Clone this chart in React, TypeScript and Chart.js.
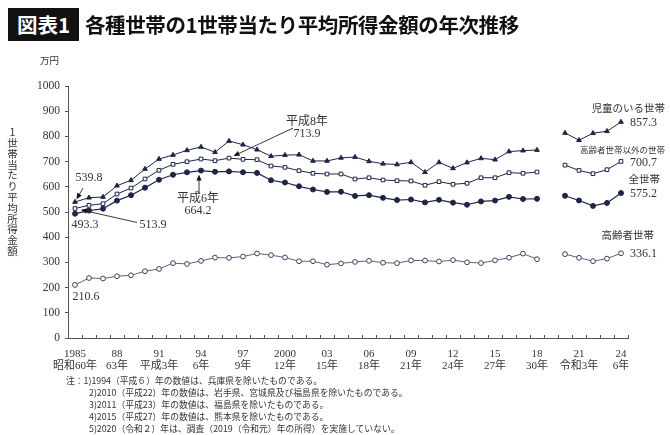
import React, { useEffect, useRef } from "react";
import { Chart, registerables } from "chart.js";

Chart.register(...registerables);

// ---- data ----
const years: number[] = [
  1985, 1986, 1987, 1988, 1989, 1990, 1991, 1992, 1993, 1994,
  1995, 1996, 1997, 1998, 1999, 2000, 2001, 2002, 2003, 2004,
  2005, 2006, 2007, 2008, 2009, 2010, 2011, 2012, 2013, 2014,
  2015, 2016, 2017, 2018, 2019, 2020, 2021, 2022, 2023, 2024,
];

const childHouseholds: (number | null)[] = [
  539.8, 556.7, 559.5, 604.4, 625.8, 670.6, 710.3, 726.2, 744.8, 758.0,
  737.2, 781.6, 767.1, 747.4, 721.4, 725.8, 727.2, 702.7, 702.6, 714.9,
  718.0, 701.2, 691.4, 688.5, 697.3, 658.1, 697.0, 673.2, 696.3, 712.9,
  707.8, 739.8, 743.6, 745.9, null, 813.5, 785.0, 812.6, 820.5, 857.3,
];

const nonElderlyHouseholds: (number | null)[] = [
  513.9, 526.5, 533.0, 571.4, 595.0, 631.0, 665.5, 689.0, 699.6, 710.3,
  703.6, 713.9, 709.0, 707.5, 682.5, 677.4, 664.0, 653.6, 650.8, 650.8,
  631.0, 636.0, 627.0, 624.3, 623.0, 606.0, 620.4, 610.0, 614.0, 636.0,
  636.0, 656.0, 653.6, 658.7, null, 686.0, 665.0, 652.0, 668.0, 700.7,
];

const allHouseholds: (number | null)[] = [
  493.3, 505.6, 513.0, 545.2, 566.7, 596.6, 628.0, 647.8, 657.5, 664.2,
  659.6, 661.2, 657.7, 655.2, 626.0, 616.9, 602.0, 589.3, 579.7, 580.4,
  563.8, 566.8, 556.2, 547.5, 549.6, 538.0, 548.2, 537.2, 528.9, 541.9,
  545.4, 560.2, 551.6, 552.3, null, 564.3, 545.7, 524.2, 536.0, 575.2,
];

const elderlyHouseholds: (number | null)[] = [
  210.6, 238.0, 236.0, 245.0, 249.0, 265.0, 274.0, 297.0, 294.0, 306.0,
  319.0, 318.0, 323.1, 335.5, 328.9, 319.5, 304.6, 304.6, 290.9, 296.1,
  301.9, 306.3, 298.9, 297.0, 307.9, 307.2, 303.6, 309.1, 300.5, 297.3,
  308.1, 318.6, 334.9, 312.6, null, 332.9, 318.3, 304.9, 315.0, 336.1,
];

const labelYears: number[] = [1985, 1988, 1991, 1994, 1997, 2000, 2003, 2006, 2009, 2012, 2015, 2018, 2021, 2024];
const labelTop: string[] = ["1985", "88", "91", "94", "97", "2000", "03", "06", "09", "12", "15", "18", "21", "24"];
const labelEra: string[] = ["昭和60年", "63年", "平成3年", "6年", "9年", "12年", "15年", "18年", "21年", "24年", "27年", "30年", "令和3年", "6年"];

const seriesNames: string[] = ["児童のいる世帯", "高齢者世帯以外の世帯", "全世帯", "高齢者世帯"];

const notes: string[] = [
  "注：1)1994（平成６）年の数値は、兵庫県を除いたものである。",
  "2)2010（平成22）年の数値は、岩手県、宮城県及び福島県を除いたものである。",
  "3)2011（平成23）年の数値は、福島県を除いたものである。",
  "4)2015（平成27）年の数値は、熊本県を除いたものである。",
  "5)2020（令和２）年は、調査（2019（令和元）年の所得）を実施していない。",
];

const NAVY = "#1d2549";
const GREY_LINE = "#4a5070";
const TEXT = "#333333";
const SERIF = "'Liberation Serif', 'Noto Sans CJK JP', serif";
const JP = "'Noto Sans CJK JP', sans-serif";

function fmt(v: number | null): string {
  return v == null ? "" : v.toFixed(1);
}

function arrow(ctx: CanvasRenderingContext2D, x1: number, y1: number, x2: number, y2: number) {
  const ang = Math.atan2(y2 - y1, x2 - x1);
  const len = 6;
  const hw = 2.6;
  ctx.save();
  ctx.strokeStyle = "#222";
  ctx.fillStyle = "#111";
  ctx.lineWidth = 0.9;
  ctx.beginPath();
  ctx.moveTo(x1, y1);
  ctx.lineTo(x2 - Math.cos(ang) * len * 0.8, y2 - Math.sin(ang) * len * 0.8);
  ctx.stroke();
  ctx.beginPath();
  ctx.moveTo(x2, y2);
  ctx.lineTo(x2 - Math.cos(ang) * len - Math.sin(ang) * hw, y2 - Math.sin(ang) * len + Math.cos(ang) * hw);
  ctx.lineTo(x2 - Math.cos(ang) * len + Math.sin(ang) * hw, y2 - Math.sin(ang) * len - Math.cos(ang) * hw);
  ctx.closePath();
  ctx.fill();
  ctx.restore();
}

function tipToward(px: number, py: number, fx: number, fy: number, gap: number): [number, number] {
  const dx = fx - px, dy = fy - py;
  const d = Math.hypot(dx, dy) || 1;
  return [px + (dx / d) * gap, py + (dy / d) * gap];
}

const annotationPlugin = {
  id: "annotations",
  afterDraw(chart: any) {
    const ctx: CanvasRenderingContext2D = chart.ctx;
    const xs = chart.scales.x;
    const ys = chart.scales.y;
    const area = chart.chartArea;
    const X = (i: number) => xs.getPixelForValue(i);
    const Y = (v: number) => ys.getPixelForValue(v);
    const last = years.length - 1;
    const i1994 = years.indexOf(1994);
    const i1996 = years.indexOf(1996);

    // inward x tick marks at category boundaries
    ctx.save();
    ctx.strokeStyle = "#555";
    ctx.lineWidth = 1;
    const step = (area.right - area.left) / years.length;
    for (let i = 1; i <= years.length; i++) {
      const x = Math.round(area.left + i * step) + 0.5;
      ctx.beginPath();
      ctx.moveTo(x, area.bottom);
      ctx.lineTo(x, area.bottom - 3);
      ctx.stroke();
    }
    ctx.restore();

    ctx.save();
    ctx.fillStyle = TEXT;
    ctx.textAlign = "center";
    ctx.textBaseline = "middle";
    ctx.font = `12px ${SERIF}`;

    // 539.8 (children, 1985)
    const c0x = X(0), c0y = Y(childHouseholds[0] as number);
    ctx.fillText(fmt(childHouseholds[0]), c0x + 14, c0y - 24);
    {
      const [tx, ty] = tipToward(c0x, c0y, c0x + 8, c0y - 14, 3);
      arrow(ctx, c0x + 8, c0y - 14, tx, ty);
    }
    // 493.3 (all, 1985)
    const a0x = X(0), a0y = Y(allHouseholds[0] as number);
    ctx.fillText(fmt(allHouseholds[0]), a0x + 10, a0y + 11);
    // 513.9 (non-elderly, 1985)
    const n0x = X(0), n0y = Y(nonElderlyHouseholds[0] as number);
    ctx.fillText(fmt(nonElderlyHouseholds[0]), n0x + 78, n0y + 16);
    {
      const sx = n0x + 62, sy = n0y + 14;
      const [tx, ty] = tipToward(n0x, n0y, sx, sy, 6);
      arrow(ctx, sx, sy, tx, ty);
    }
    // 210.6 (elderly 1985)
    const e0x = X(0), e0y = Y(elderlyHouseholds[0] as number);
    ctx.fillText(fmt(elderlyHouseholds[0]), e0x + 11, e0y + 12);

    // 平成6年 664.2 (all, 1994)
    const a94x = X(i1994), a94y = Y(allHouseholds[i1994] as number);
    ctx.fillText("平成6年", a94x - 3, a94y + 28);
    ctx.fillText(fmt(allHouseholds[i1994]), a94x - 3, a94y + 40);
    arrow(ctx, a94x - 2, a94y + 22, a94x - 2, a94y + 4);

    // 平成8年 713.9 (non-elderly, 1996)
    const n96x = X(i1996), n96y = Y(nonElderlyHouseholds[i1996] as number);
    ctx.fillText("平成8年", n96x + 78, n96y - 36);
    ctx.fillText(fmt(nonElderlyHouseholds[i1996]), n96x + 78, n96y - 24);
    {
      const sx = n96x + 64, sy = n96y - 30;
      const [tx, ty] = tipToward(n96x, n96y, sx, sy, 5);
      arrow(ctx, sx, sy, tx, ty);
    }

    // right-hand labels
    const lx = X(last) + 9;
    const vals = [childHouseholds[last], nonElderlyHouseholds[last], allHouseholds[last], elderlyHouseholds[last]] as number[];
    ctx.textAlign = "left";
    ctx.font = `12px ${SERIF}`;
    vals.forEach((v) => ctx.fillText(fmt(v), lx, Y(v) + 1));

    ctx.textAlign = "right";
    ctx.font = `10.5px ${JP}`;
    ctx.fillText(seriesNames[0], 665, Y(vals[0]) - 14);
    ctx.font = `8.5px ${JP}`;
    ctx.fillText(seriesNames[1], 665, Y(vals[1]) - 12);
    ctx.font = `10.5px ${JP}`;
    ctx.fillText(seriesNames[2], 660, Y(vals[2]) - 14);
    ctx.fillText(seriesNames[3], 654, Y(vals[3]) - 18);
    ctx.restore();
  },
};

export default function App() {
  const canvasRef = useRef<HTMLCanvasElement | null>(null);

  useEffect(() => {
    if (!canvasRef.current) return;
    const common = {
      spanGaps: false,
      tension: 0,
      borderWidth: 1,
      pointRadius: 2.5,
      pointBorderWidth: 1,
    };
    const chart = new Chart(canvasRef.current, {
      type: "line",
      data: {
        labels: years.map(String),
        datasets: [
          {
            ...common,
            label: seriesNames[0],
            data: childHouseholds,
            borderColor: NAVY,
            backgroundColor: NAVY,
            pointStyle: "triangle",
            pointRadius: 2.7,
            pointBackgroundColor: NAVY,
            pointBorderColor: NAVY,
          },
          {
            ...common,
            label: seriesNames[1],
            data: nonElderlyHouseholds,
            borderColor: NAVY,
            backgroundColor: "#ffffff",
            pointStyle: "rect",
            pointRadius: 2.6,
            pointBackgroundColor: "#ffffff",
            pointBorderColor: NAVY,
          },
          {
            ...common,
            label: seriesNames[2],
            data: allHouseholds,
            borderColor: NAVY,
            backgroundColor: NAVY,
            pointStyle: "circle",
            pointRadius: 2.5,
            pointBackgroundColor: NAVY,
            pointBorderColor: NAVY,
            borderWidth: 1.2,
          },
          {
            ...common,
            label: seriesNames[3],
            data: elderlyHouseholds,
            borderColor: GREY_LINE,
            backgroundColor: "#ffffff",
            pointStyle: "circle",
            pointRadius: 2.4,
            pointBackgroundColor: "#ffffff",
            pointBorderColor: "#3a4060",
            borderWidth: 0.9,
          },
        ],
      },
      options: {
        responsive: false,
        animation: false,
        layout: { padding: { left: 8, right: 42, top: 86, bottom: 57 } },
        plugins: {
          legend: { display: false },
          tooltip: { enabled: false },
          title: { display: false },
        },
        scales: {
          x: {
            type: "category",
            offset: true,
            grid: { display: false, offset: true },
            border: { display: true, color: "#555", width: 1 },
            ticks: {
              autoSkip: false,
              maxRotation: 0,
              minRotation: 0,
              padding: 2,
              color: TEXT,
              font: { family: SERIF, size: 11, lineHeight: 1.1 },
              callback: (_v: any, idx: number) => {
                const k = labelYears.indexOf(years[idx]);
                return k >= 0 ? [labelTop[k], labelEra[k]] : "";
              },
            },
            afterFit: (s: any) => {
              s.height = 40;
            },
          },
          y: {
            min: 0,
            max: 1000,
            grid: { drawOnChartArea: false, drawTicks: true, tickLength: 3, color: "#555" },
            border: { display: true, color: "#555", width: 1 },
            ticks: {
              stepSize: 100,
              padding: 5,
              color: TEXT,
              font: { family: SERIF, size: 11.5 },
              callback: (v: any) => String(v),
            },
            afterFit: (s: any) => {
              s.width = 60;
            },
          },
        },
      },
      plugins: [annotationPlugin],
    } as any);
    return () => chart.destroy();
  }, []);

  return (
    <div style={{ position: "absolute", left: 0, top: 0, width: 670, height: 435, background: "#fff", overflow: "hidden" }}>
      <canvas ref={canvasRef} width={670} height={435} style={{ position: "absolute", left: 0, top: 0 }} />
      <div
        style={{
          position: "absolute", left: 8, top: 8, width: 71, height: 33, background: "#111",
          color: "#fff", fontFamily: JP, fontWeight: 700, fontSize: 20.5, lineHeight: "33px", textAlign: "center",
        }}
      >
        図表1
      </div>
      <div
        style={{
          position: "absolute", left: 85, top: 8, height: 33, lineHeight: "33px", color: "#111",
          fontFamily: JP, fontWeight: 700, fontSize: 20.5, whiteSpace: "nowrap", letterSpacing: -0.4,
        }}
      >
        各種世帯の1世帯当たり平均所得金額の年次推移
      </div>
      <div style={{ position: "absolute", left: 40, top: 53, fontFamily: JP, fontSize: 9.5, color: TEXT }}>万円</div>
      <div
        style={{
          position: "absolute", left: 6, top: 127, fontFamily: JP, fontSize: 10.5, lineHeight: "13px", color: TEXT,
          writingMode: "vertical-rl", textOrientation: "upright", letterSpacing: 0.3,
        }}
      >
        1世帯当たり平均所得金額
      </div>
      <div style={{ position: "absolute", left: 66, top: 375, fontFamily: JP, fontSize: 8.8, lineHeight: "12px", color: TEXT, whiteSpace: "nowrap" }}>
        {notes.map((n, i) => (
          <div key={i} style={{ paddingLeft: i === 0 ? 0 : 23 }}>{n}</div>
        ))}
      </div>
    </div>
  );
}
